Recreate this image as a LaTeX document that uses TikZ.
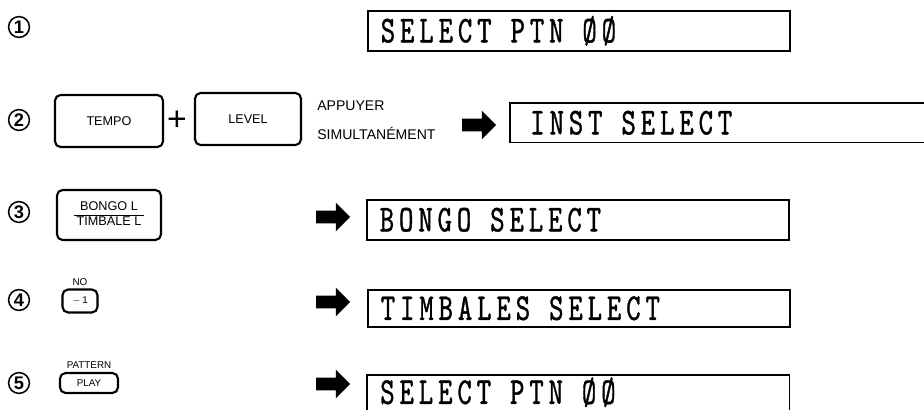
\documentclass[tikz,border=0pt]{standalone}
\usepackage{fontspec}
\setsansfont{Liberation Sans}
\newfontfamily\lcdfont[FakeStretch=0.72, LetterSpace=13, FakeBold=1]{lmmono10-regular.otf}
\newcommand{\lcdtext}{\lcdfont\fontsize{27}{27}\selectfont}
\newcommand{\lcdgap}{\hspace{13.5pt}}
\usepackage{tikz}
\usetikzlibrary{positioning}
\usetikzlibrary{shapes.arrows}

\begin{document}
\begin{tikzpicture}[x=0.025cm, y=-0.025cm,
  num/.style={circle, draw, line width=1.1pt, inner sep=0pt, minimum size=0.52cm,
    font=\sffamily\bfseries\fontsize{13}{13}\selectfont},
  key/.style={draw, rounded corners=4pt, line width=1.5pt, inner sep=0pt,
    font=\sffamily\fontsize{9}{10}\selectfont},
  lcd/.style={anchor=north west, minimum height=1cm, inner xsep=0.325cm, inner ysep=0pt,
    text width=9.9cm, align=left, font=\lcdtext},
  lcdbox/.style={lcd, draw, line width=1.1pt},
  fat/.style={single arrow, fill, draw=none, inner xsep=0pt, inner ysep=0.15cm,
    minimum height=0.85cm, single arrow head extend=0.2cm},
  lbl/.style={font=\sffamily\fontsize{7}{8}\selectfont, inner sep=1pt}]

\useasboundingbox (0,0) rectangle (924,411);

% step numbers
\node[num] (n1) at (19,27) {1};
\node[num] (n2) at (19,120) {2};
\node[num] (n3) at (19,212) {3};
\node[num] (n4) at (19,300) {4};
\node[num] (n5) at (19,383) {5};

% row 1
\node[lcdbox] (d1) at (367,10) {SELECT\lcdgap PTN\lcdgap ØØ};

% row 2
\node[key, minimum width=2.7cm, minimum height=1.3cm] (tempo) at (109,121) {TEMPO};
\node[font=\sffamily\fontsize{24}{24}\selectfont, inner sep=0pt] (plus) at (177,121) {+};
\node[key, minimum width=2.65cm, minimum height=1.3cm] (level) at (248,119) {LEVEL};
\node[font=\sffamily\fontsize{10}{11}\selectfont, anchor=west, inner sep=0pt] (simA) at (317,106) {APPUYER};
\node[font=\sffamily\fontsize{10}{11}\selectfont, anchor=west, inner sep=0pt] (simB) at (317,133) {SIMULTANÉMENT};
\node[fat] (arr2) at (476,125) {};
\node[lcd, text width=9.35cm, inner xsep=0.5cm, minimum height=0.975cm] (d2) at (510,103) {INST\lcdgap SELECT};
\draw[line width=1.1pt] (d2.north east) -- (d2.north west) -- (d2.south west) -- (d2.south east);

% row 3
\node[key, minimum width=2.6cm, minimum height=1.25cm] (bongo) at (109,215)
  {\renewcommand{\arrayrulewidth}{0.7pt}\setlength{\tabcolsep}{2pt}%
   \begin{tabular}{c}BONGO L\\\hline TIMBALE L\end{tabular}};
\node[fat] (arr3) at (330,217) {};
\node[lcdbox] (d3) at (366,199) {BONGO\lcdgap SELECT};

% row 4
\node[key, minimum width=0.875cm, minimum height=0.575cm, font=\sffamily\fontsize{7}{8}\selectfont] (minus) at (80,301) {$-$\,1};
\node[lbl, above=1pt of minus] (nolbl) {NO};
\node[fat] (arr4) at (330,302) {};
\node[lcdbox, minimum height=0.925cm] (d4) at (367,289) {TIMBALES\lcdgap SELECT};

% row 5
\node[key, minimum width=1.45cm, minimum height=0.5cm, font=\sffamily\fontsize{7}{8}\selectfont] (play) at (89,383) {PLAY};
\node[lbl, above=1pt of play] (patlbl) {PATTERN};
\node[fat] (arr5) at (330,384) {};
\node[lcd, minimum height=0.85cm] (d5) at (367,375) {SELECT\lcdgap PTN\lcdgap ØØ};
\draw[line width=1.1pt] (d5.south west) -- (d5.north west) -- (d5.north east) -- (d5.south east);

\end{tikzpicture}
\end{document}
